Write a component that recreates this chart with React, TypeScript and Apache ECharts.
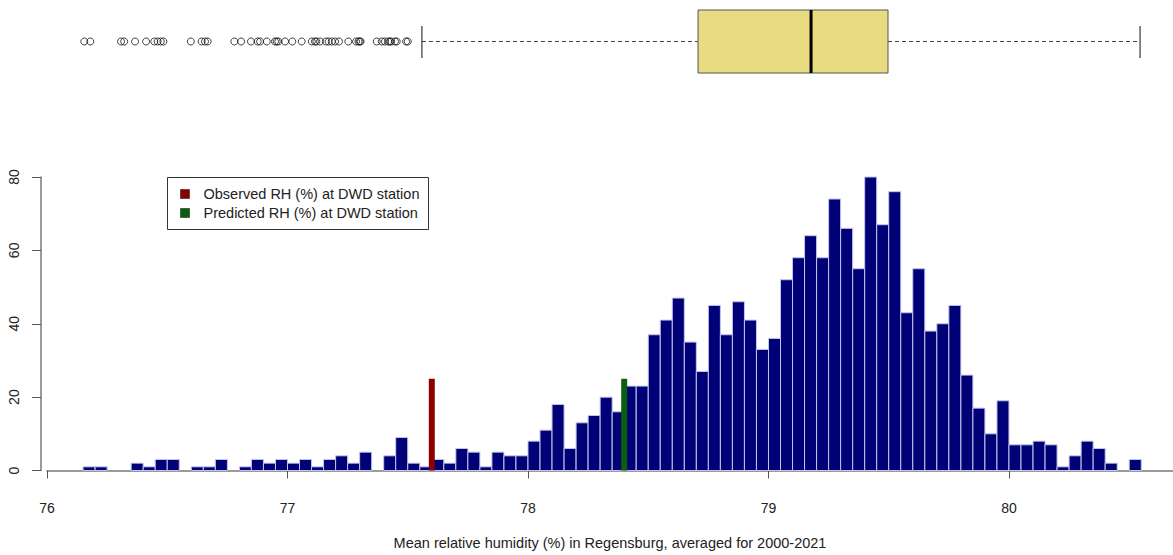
import React, { useEffect, useRef } from "react";
import * as echarts from "echarts";

// Histogram: bins of 0.05 starting at 76.15
const binStart = 76.15;
const binWidth = 0.05;
const counts = [
  1, 1, 0, 0, 2, 1, 3, 3, 0, 1,
  1, 3, 0, 1, 3, 2, 3, 2, 3, 1,
  3, 4, 2, 5, 0, 4, 9, 2, 1, 3,
  2, 6, 5, 1, 5, 4, 4, 8, 11, 18,
  6, 13, 15, 20, 16, 23, 23, 37, 41, 47,
  35, 27, 45, 37, 46, 41, 33, 36, 52, 58,
  64, 58, 74, 66, 55, 80, 67, 76, 43, 55,
  38, 40, 45, 26, 17, 10, 19, 7, 7, 8,
  7, 1, 4, 8, 6, 2, 0, 3,
];

// Observed / predicted markers
const markerNames = ["Observed RH (%) at DWD station", "Predicted RH (%) at DWD station"];
const markerValues = [77.6, 78.4];
const markerHeights = [25, 25];
const markerColors = ["#8B0000", "#0B5E0B"];

// Boxplot statistics: lower whisker, Q1, median, Q3, upper whisker
const boxStats = [77.559, 78.707, 79.177, 79.497, 80.545];
const outliers = [
  76.155, 76.18, 76.308, 76.321, 76.366, 76.412, 76.446, 76.46, 76.473, 76.484,
  76.598, 76.643, 76.657, 76.668, 76.779, 76.807, 76.848, 76.876, 76.886, 76.914,
  76.948, 76.955, 76.962, 76.99, 77.02, 77.059, 77.101, 77.114, 77.12, 77.135,
  77.16, 77.171, 77.184, 77.198, 77.214, 77.253, 77.285, 77.295, 77.3, 77.304,
  77.371, 77.392, 77.405, 77.419, 77.425, 77.431, 77.447, 77.454, 77.493, 77.5,
];

const xTicks = [76, 77, 78, 79, 80];
const xMin = 76;
const xMax = 80.682;
const yMax = 80;
const yInterval = 20;
const xTitle = "Mean relative humidity (%) in Regensburg, averaged for 2000-2021";

const FONT = "'Liberation Sans', Arial, Helvetica, sans-serif";

export default function App() {
  const ref = useRef<HTMLDivElement>(null);

  useEffect(() => {
    if (!ref.current) return;
    const chart = echarts.init(ref.current, null, { renderer: "svg" });

    const histData = counts
      .map((c, i) => [binStart + i * binWidth, binStart + (i + 1) * binWidth, c])
      .filter((d) => d[2] > 0);

    const option: any = {
      animation: false,
      backgroundColor: "#ffffff",
      textStyle: { fontFamily: FONT },
      grid: [
        { left: 47, right: 0, top: 177, height: 295.5 },
        { left: 47, right: 0, top: 10, height: 63 },
      ],
      xAxis: [
        {
          type: "value",
          gridIndex: 0,
          min: xMin,
          max: xMax,
          offset: 12.5,
          axisLine: { show: true, lineStyle: { color: "#7a7a7a", width: 1.5 } },
          axisTick: {
            show: true,
            length: 8,
            customValues: xTicks,
            lineStyle: { color: "#555", width: 1 },
          },
          axisLabel: {
            customValues: xTicks,
            margin: 18,
            color: "#222",
            fontSize: 14,
            fontFamily: FONT,
          },
          splitLine: { show: false },
          name: xTitle,
          nameLocation: "middle",
          nameGap: 52,
          nameTextStyle: { color: "#222", fontSize: 14.5, fontFamily: FONT },
        },
        {
          type: "value",
          gridIndex: 1,
          min: xMin,
          max: xMax,
          show: false,
        },
      ],
      yAxis: [
        {
          type: "value",
          gridIndex: 0,
          min: 0,
          max: yMax,
          interval: yInterval,
          offset: 6,
          axisLine: { show: true, lineStyle: { color: "#7a7a7a", width: 1.5 } },
          axisTick: { show: true, length: 9, lineStyle: { color: "#555", width: 1 } },
          axisLabel: {
            rotate: 90,
            margin: 20,
            color: "#222",
            fontSize: 14,
            fontFamily: FONT,
          },
          splitLine: { show: false },
        },
        { type: "value", gridIndex: 1, min: 0, max: 1, show: false },
      ],
      series: [
        {
          type: "custom",
          name: "histogram",
          xAxisIndex: 0,
          yAxisIndex: 0,
          data: histData,
          encode: { x: [0, 1], y: 2 },
          renderItem: (params: any, api: any) => {
            const x0 = api.value(0);
            const x1 = api.value(1);
            const c = api.value(2);
            const p0 = api.coord([x0, c]);
            const p1 = api.coord([x1, 0]);
            return {
              type: "rect",
              shape: { x: p0[0], y: p0[1], width: p1[0] - p0[0], height: p1[1] - p0[1] },
              style: { fill: "#000077", stroke: "#c4c4ec", lineWidth: 1 },
            };
          },
          z: 2,
        },
        {
          type: "custom",
          name: "markers",
          xAxisIndex: 0,
          yAxisIndex: 0,
          data: markerValues.map((v, i) => [v, markerHeights[i], i]),
          encode: { x: 0, y: 1 },
          renderItem: (params: any, api: any) => {
            const x = api.value(0);
            const h = api.value(1);
            const idx = api.value(2);
            const pt = api.coord([x, h]);
            const pb = api.coord([x, 0]);
            return {
              type: "rect",
              shape: { x: pt[0] - 3, y: pt[1], width: 6, height: pb[1] - pt[1] },
              style: { fill: markerColors[idx] },
            };
          },
          z: 3,
        },
        {
          type: "custom",
          name: "boxplot",
          xAxisIndex: 1,
          yAxisIndex: 1,
          data: [boxStats],
          encode: { x: [0, 1, 2, 3, 4] },
          renderItem: (params: any, api: any) => {
            const lo = api.coord([api.value(0), 0.5]);
            const q1 = api.coord([api.value(1), 1]);
            const med = api.coord([api.value(2), 1]);
            const q3 = api.coord([api.value(3), 0]);
            const hi = api.coord([api.value(4), 0.5]);
            const yTop = q1[1];
            const yBot = q3[1];
            const yMid = lo[1];
            const capTop = api.coord([api.value(0), 0.746])[1];
            const capBot = api.coord([api.value(0), 0.238])[1];
            const dash = { stroke: "#444", lineWidth: 1, lineDash: [4, 3] };
            return {
              type: "group",
              children: [
                { type: "line", shape: { x1: lo[0], y1: yMid, x2: q1[0], y2: yMid }, style: dash },
                { type: "line", shape: { x1: q3[0], y1: yMid, x2: hi[0], y2: yMid }, style: dash },
                { type: "line", shape: { x1: lo[0], y1: capTop, x2: lo[0], y2: capBot }, style: { stroke: "#111", lineWidth: 1 } },
                { type: "line", shape: { x1: hi[0], y1: capTop, x2: hi[0], y2: capBot }, style: { stroke: "#111", lineWidth: 1 } },
                {
                  type: "rect",
                  shape: { x: q1[0], y: yTop, width: q3[0] - q1[0], height: yBot - yTop },
                  style: { fill: "#E8DB80", stroke: "#555", lineWidth: 1 },
                },
                { type: "line", shape: { x1: med[0], y1: yTop, x2: med[0], y2: yBot }, style: { stroke: "#000", lineWidth: 3 } },
              ],
            };
          },
          z: 2,
        },
        {
          type: "scatter",
          name: "outliers",
          xAxisIndex: 1,
          yAxisIndex: 1,
          data: outliers.map((v) => [v, 0.5]),
          symbol: "circle",
          symbolSize: 7,
          itemStyle: { color: "transparent", borderColor: "#111", borderWidth: 1 },
          z: 3,
        },
      ],
      graphic: [
        {
          type: "group",
          left: 167,
          top: 177,
          children: [
            {
              type: "rect",
              shape: { x: 0, y: 0, width: 261, height: 52 },
              style: { fill: "#fff", stroke: "#333", lineWidth: 1 },
            },
            ...markerNames.flatMap((name, i) => [
              {
                type: "rect",
                shape: { x: 13, y: 12 + i * 19, width: 9, height: 9 },
                style: { fill: markerColors[i], stroke: "#222", lineWidth: 0.6 },
              },
              {
                type: "text",
                x: 36,
                y: 16.5 + i * 19,
                style: {
                  text: name,
                  fill: "#222",
                  fontSize: 14.5,
                  fontFamily: FONT,
                  textVerticalAlign: "middle",
                  verticalAlign: "middle",
                },
              },
            ]),
          ],
          z: 10,
        },
      ],
    };

    chart.setOption(option);
    return () => chart.dispose();
  }, []);

  return (
    <div
      ref={ref}
      style={{ position: "fixed", left: 0, top: 0, width: 1173, height: 555, background: "#fff" }}
    />
  );
}
